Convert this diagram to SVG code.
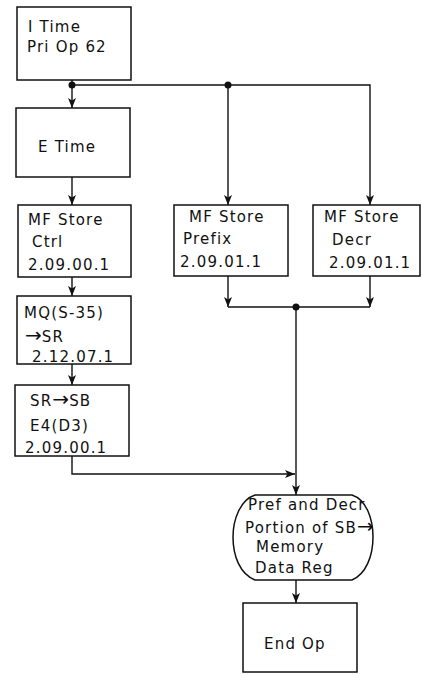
<svg xmlns="http://www.w3.org/2000/svg" width="422" height="674" viewBox="0 0 422 674">
<style>
.b{fill:#fff;stroke:#111;stroke-width:1.5}
.t{font-family:"DejaVu Sans","Liberation Sans",sans-serif;font-size:15px;letter-spacing:1.2px;fill:#111}
.ar{font-size:20px;letter-spacing:0}
.c{fill:none;stroke:#111;stroke-width:1.4}
</style>
<defs>
<marker id="a" viewBox="0 0 10 8" refX="10" refY="4" markerWidth="11" markerHeight="8" markerUnits="userSpaceOnUse" orient="auto">
<path d="M0,0 L10,4 L0,8 L2.5,4 Z" fill="#111"/>
</marker>
</defs>
<rect width="422" height="674" fill="#fff"/>
<g id="connectors">
<path class="c" d="M72,80 V108" marker-end="url(#a)"/>
<path class="c" d="M72,85 H370 V205" marker-end="url(#a)"/>
<path class="c" d="M228,85 V205" marker-end="url(#a)"/>
<path class="c" d="M72,177 V205" marker-end="url(#a)"/>
<path class="c" d="M72,277 V296" marker-end="url(#a)"/>
<path class="c" d="M72,364 V385" marker-end="url(#a)"/>
<path class="c" d="M72,456 V474 H295" marker-end="url(#a)"/>
<path class="c" d="M228,276 V307" marker-end="url(#a)"/>
<path class="c" d="M370,276 V307" marker-end="url(#a)"/>
<path class="c" d="M228,307 H370"/>
<path class="c" d="M296,307 V495" marker-end="url(#a)"/>
<path class="c" d="M296,580 V603" marker-end="url(#a)"/>
<circle cx="72" cy="85" r="3.5" fill="#111"/>
<circle cx="228" cy="85" r="3.5" fill="#111"/>
<circle cx="296" cy="307" r="3.5" fill="#111"/>
</g>
<g id="itime">
<rect class="b" x="17" y="7" width="114" height="73"/>
<text class="t" x="28" y="32">I Time</text>
<text class="t" x="27" y="52">Pri Op 62</text>
</g>
<g id="etime">
<rect class="b" x="16" y="108" width="114" height="69"/>
<text class="t" x="38" y="152">E Time</text>
</g>
<g id="mfctrl">
<rect class="b" x="18" y="205" width="113" height="72"/>
<text class="t" x="28" y="225">MF Store</text>
<text class="t" x="32" y="247">Ctrl</text>
<text class="t" x="28" y="270">2.09.00.1</text>
</g>
<g id="mq">
<rect class="b" x="17" y="296" width="114" height="68"/>
<text class="t" x="24" y="318">MQ(S-35)</text>
<text class="t" x="25" y="342"><tspan class="ar">→</tspan>SR</text>
<text class="t" x="32" y="362">2.12.07.1</text>
</g>
<g id="srsb">
<rect class="b" x="15" y="385" width="114" height="71"/>
<text class="t" x="30" y="406">SR<tspan class="ar">→</tspan>SB</text>
<text class="t" x="30" y="431">E4(D3)</text>
<text class="t" x="25" y="453">2.09.00.1</text>
</g>
<g id="mfprefix">
<rect class="b" x="174" y="205" width="114" height="71"/>
<text class="t" x="189" y="222">MF Store</text>
<text class="t" x="183" y="244">Prefix</text>
<text class="t" x="180" y="267">2.09.01.1</text>
</g>
<g id="mfdecr">
<rect class="b" x="313" y="205" width="107" height="71"/>
<text class="t" x="324" y="222">MF Store</text>
<text class="t" x="332" y="245">Decr</text>
<text class="t" x="329" y="268">2.09.01.1</text>
</g>
<g id="prefdecr">
<path class="b" d="M255,495 H352 C367,500 373,520 373,537 C373,556 366,574 352,580 H255 C240,574 233,556 233,537 C233,520 240,500 255,495 Z"/>
<text class="t" x="248" y="510">Pref and Decr</text>
<text class="t" x="245" y="533">Portion of SB<tspan class="ar" font-size="17">→</tspan></text>
<text class="t" x="256" y="552">Memory</text>
<text class="t" x="255" y="573">Data Reg</text>
</g>
<g id="endop">
<rect class="b" x="243" y="603" width="114" height="69"/>
<text class="t" x="264" y="649">End Op</text>
</g>
</svg>
